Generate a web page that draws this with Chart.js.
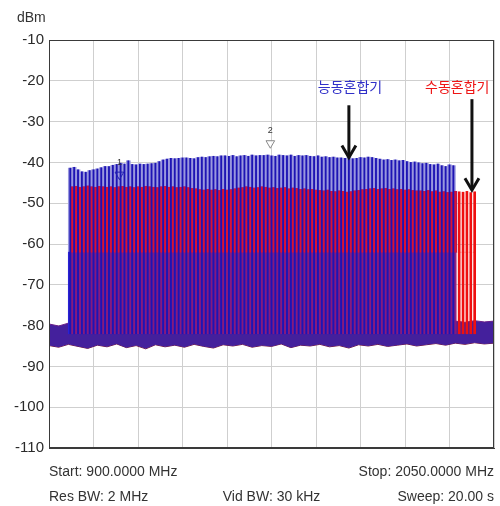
<!DOCTYPE html>
<html>
<head>
<meta charset="utf-8">
<script src="https://cdn.jsdelivr.net/npm/chart.js@4.4.0/dist/chart.umd.min.js"></script>
<style>
body { margin: 0; background: #fff; }
#wrap { width: 500px; height: 506px; }
</style>
</head>
<body>
<div id="wrap"><canvas id="spectrum"></canvas></div>
<script>
// channel centres (MHz) and peak levels (dBm)
const blueFreq = [955, 965, 975, 985, 995, 1005, 1015, 1025, 1035, 1045,
    1055, 1065, 1075, 1085, 1095, 1105, 1115, 1125, 1135, 1145,
    1155, 1165, 1175, 1185, 1195, 1205, 1215, 1225, 1235, 1245,
    1255, 1265, 1275, 1285, 1295, 1305, 1315, 1325, 1335, 1345,
    1355, 1365, 1375, 1385, 1395, 1405, 1415, 1425, 1435, 1445,
    1455, 1465, 1475, 1485, 1495, 1505, 1515, 1525, 1535, 1545,
    1555, 1565, 1575, 1585, 1595, 1605, 1615, 1625, 1635, 1645,
    1655, 1665, 1675, 1685, 1695, 1705, 1715, 1725, 1735, 1745,
    1755, 1765, 1775, 1785, 1795, 1805, 1815, 1825, 1835, 1845,
    1855, 1865, 1875, 1885, 1895, 1905, 1915, 1925, 1935, 1945]
const bluePeak = [-41.4, -41.2, -41.8, -42.3, -42.4, -42.0, -41.8, -41.6, -41.3, -41.0,
    -41.0, -40.7, -40.5, -40.2, -40.4, -39.6, -40.5, -40.6, -40.4, -40.5,
    -40.4, -40.3, -40.2, -39.8, -39.4, -39.2, -39.0, -39.1, -39.0, -38.9,
    -38.9, -39.0, -39.1, -38.8, -38.7, -38.8, -38.6, -38.5, -38.6, -38.4,
    -38.4, -38.5, -38.3, -38.6, -38.4, -38.3, -38.5, -38.2, -38.4, -38.3,
    -38.3, -38.2, -38.4, -38.5, -38.2, -38.3, -38.4, -38.2, -38.5, -38.3,
    -38.4, -38.3, -38.5, -38.6, -38.4, -38.7, -38.6, -38.8, -38.7, -38.9,
    -38.9, -39.0, -38.8, -39.1, -39.0, -38.8, -38.9, -38.7, -38.8, -39.0,
    -39.2, -39.4, -39.3, -39.5, -39.4, -39.6, -39.5, -39.8, -40.0, -39.9,
    -40.1, -40.3, -40.2, -40.5, -40.6, -40.4, -40.8, -41.0, -40.6, -40.8]

const redFreq = [960, 970, 980, 990, 1000, 1010, 1020, 1030, 1040, 1050,
    1060, 1070, 1080, 1090, 1100, 1110, 1120, 1130, 1140, 1150,
    1160, 1170, 1180, 1190, 1200, 1210, 1220, 1230, 1240, 1250,
    1260, 1270, 1280, 1290, 1300, 1310, 1320, 1330, 1340, 1350,
    1360, 1370, 1380, 1390, 1400, 1410, 1420, 1430, 1440, 1450,
    1460, 1470, 1480, 1490, 1500, 1510, 1520, 1530, 1540, 1550,
    1560, 1570, 1580, 1590, 1600, 1610, 1620, 1630, 1640, 1650,
    1660, 1670, 1680, 1690, 1700, 1710, 1720, 1730, 1740, 1750,
    1760, 1770, 1780, 1790, 1800, 1810, 1820, 1830, 1840, 1850,
    1860, 1870, 1880, 1890, 1900, 1910, 1920, 1930, 1940, 1950,
    1960, 1970, 1980, 1990, 2000]
const redPeak = [-46.0, -45.9, -46.1, -46.0, -45.8, -46.0, -46.1, -45.9, -46.0, -46.1,
    -46.0, -46.2, -46.0, -45.9, -46.1, -46.0, -46.2, -46.0, -46.1, -45.9,
    -46.0, -46.1, -46.2, -46.0, -45.9, -46.1, -46.0, -46.2, -46.1, -46.0,
    -46.2, -46.4, -46.5, -46.7, -46.8, -46.6, -46.8, -46.7, -46.9, -46.6,
    -46.8, -46.7, -46.5, -46.3, -46.2, -46.0, -46.1, -46.3, -46.2, -46.0,
    -46.1, -46.3, -46.2, -46.4, -46.3, -46.2, -46.5, -46.3, -46.4, -46.6,
    -46.5, -46.7, -46.6, -46.8, -46.9, -47.0, -46.8, -47.1, -47.2, -47.0,
    -47.1, -47.3, -47.2, -47.0, -46.9, -46.7, -46.6, -46.5, -46.4, -46.6,
    -46.5, -46.4, -46.6, -46.5, -46.7, -46.6, -46.8, -46.7, -46.9, -47.0,
    -47.0, -47.1, -46.9, -47.2, -47.0, -47.3, -47.2, -47.4, -47.3, -47.1,
    -47.2, -47.3, -47.1, -47.4, -47.2]

// noise floor band
const floorFreq = [900, 925, 950, 975, 1000, 1025, 1050, 1075, 1100, 1125,
    1150, 1175, 1200, 1225, 1250, 1275, 1300, 1325, 1350, 1375,
    1400, 1425, 1450, 1475, 1500, 1525, 1550, 1575, 1600, 1625,
    1650, 1675, 1700, 1725, 1750, 1775, 1800, 1825, 1850, 1875,
    1900, 1925, 1950, 1975, 2000, 2025, 2050]
const floorTop = [-79.6, -80.1, -79.4, -79.8, -80.2, -79.5, -79.9, -79.3, -80.0, -79.7,
    -79.4, -80.1, -79.6, -79.9, -79.2, -79.8, -80.0, -79.5, -79.7, -79.3,
    -79.9, -80.2, -79.6, -79.4, -79.8, -80.0, -79.5, -79.7, -79.2, -79.9,
    -79.6, -80.1, -79.4, -79.8, -79.5, -79.9, -79.3, -79.7, -80.0, -79.4,
    -79.0, -79.3, -78.9, -79.2, -78.8, -79.1, -78.9]
const floorBot = [-84.9, -85.3, -84.6, -85.1, -85.6, -84.8, -85.2, -84.5, -85.4, -84.9,
    -85.7, -84.7, -85.2, -84.8, -85.3, -84.6, -85.1, -85.5, -84.7, -85.0,
    -84.6, -85.3, -84.9, -85.1, -84.5, -85.4, -84.8, -85.0, -84.6, -85.2,
    -84.9, -85.5, -84.7, -85.0, -84.6, -85.1, -84.8, -84.5, -85.0, -84.7,
    -84.4, -84.8, -84.3, -84.6, -84.2, -84.5, -84.3]

const traceBottom = -82
const blueTrough = -62   // level the active mixer trace falls to between channels

const markerFreq = [1082, 1472]
const markerLevel = [-43, -35.3]
const markerName = ["1", "2"]

const noteText = ["능동혼합기", "수동혼합기"]
const noteFreq = [1678, 1955]
const noteLevel = [-21.5, -21.5]
const arrowFreq = [1675, 1993]
const arrowFrom = [-26, -24.5]
const arrowTo = [-38.8, -46.8]

const yTicks = [-10, -20, -30, -40, -50, -60, -70, -80, -90, -100, -110]

const lastBlue = blueFreq[blueFreq.length - 1]
const redOnly = ctx => ctx.raw && ctx.raw.x > lastBlue + 5

function arrow(ctx, x, y1, y2) {
    ctx.beginPath()
    ctx.moveTo(x, y1)
    ctx.lineTo(x, y2 - 2)
    ctx.stroke()
    ctx.beginPath()
    ctx.moveTo(x - 7, y2 - 12)
    ctx.lineTo(x, y2)
    ctx.lineTo(x + 7, y2 - 12)
    ctx.stroke()
}

const overlay = {
    id: "overlay",
    afterDraw(chart) {
        let ctx = chart.ctx
        let a = chart.chartArea
        let xs = chart.scales.x
        let ys = chart.scales.y
        ctx.save()

        ctx.strokeStyle = "#3a3a3a"
        ctx.lineWidth = 1
        ctx.strokeRect(a.left + 0.5, a.top + 0.5, a.right - a.left - 1, a.bottom - a.top - 1)

        // marker labels
        ctx.fillStyle = "#333"
        ctx.font = "9px 'Liberation Sans', Arial"
        ctx.textAlign = "center"
        ctx.textBaseline = "bottom"
        for (let i = 0; i < markerName.length; i++) {
            ctx.fillText(markerName[i], xs.getPixelForValue(markerFreq[i]), ys.getPixelForValue(markerLevel[i]) - 8)
        }

        // mixer notes and arrows
        ctx.font = "14px 'Noto Sans CJK KR'"
        ctx.textBaseline = "middle"
        ctx.fillStyle = "#3030c8"
        ctx.fillText(noteText[0], xs.getPixelForValue(noteFreq[0]), ys.getPixelForValue(noteLevel[0]))
        ctx.fillStyle = "#ee1515"
        ctx.fillText(noteText[1], xs.getPixelForValue(noteFreq[1]), ys.getPixelForValue(noteLevel[1]))

        ctx.strokeStyle = "#111"
        ctx.lineWidth = 3
        for (let i = 0; i < arrowFreq.length; i++) {
            arrow(ctx, xs.getPixelForValue(arrowFreq[i]), ys.getPixelForValue(arrowFrom[i]), ys.getPixelForValue(arrowTo[i]))
        }

        // analyzer settings
        ctx.fillStyle = "#333"
        ctx.font = "14px 'Liberation Sans', Arial"
        ctx.textBaseline = "alphabetic"
        ctx.textAlign = "left"
        ctx.fillText("dBm", 17, 22)
        ctx.fillText("Start: 900.0000 MHz", a.left, a.bottom + 28)
        ctx.fillText("Res BW: 2 MHz", a.left, a.bottom + 53)
        ctx.textAlign = "center"
        ctx.fillText("Vid BW: 30 kHz", (a.left + a.right) / 2, a.bottom + 53)
        ctx.textAlign = "right"
        ctx.fillText("Stop: 2050.0000 MHz", a.right, a.bottom + 28)
        ctx.fillText("Sweep: 20.00 s", a.right, a.bottom + 53)
        ctx.restore()
    }
}

new Chart(document.getElementById("spectrum"), {
    type: "bar",
    data: {
        datasets: [
            {
                type: "line",
                data: floorFreq.map((f, i) => ({ x: f, y: floorBot[i] })),
                borderColor: "#7a1838",
                borderWidth: 1,
                pointRadius: 0,
                tension: 0,
                order: 10
            },
            {
                type: "line",
                data: floorFreq.map((f, i) => ({ x: f, y: floorTop[i] })),
                borderColor: "#6a1f8a",
                backgroundColor: "#44209c",
                borderWidth: 1,
                pointRadius: 0,
                tension: 0,
                fill: "-1",
                order: 9
            },
            {
                // light halo round the active mixer channels
                data: blueFreq.map((f, i) => ({ x: f, y: [blueTrough, bluePeak[i]] })),
                backgroundColor: "#9a98de",
                barThickness: 4,
                order: 8
            },
            {
                data: blueFreq.map(f => ({ x: f, y: [traceBottom, blueTrough] })),
                backgroundColor: "#2a22d4",
                barThickness: 4,
                order: 7
            },
            {
                // passive mixer body, mixed with the active trace
                data: redFreq.map((f, i) => ({ x: f, y: [blueTrough, redPeak[i]] })),
                backgroundColor: ctx => redOnly(ctx) ? "rgba(0,0,0,0)" : "#7a1c8c",
                barThickness: 3,
                order: 6
            },
            {
                data: redFreq.map(f => ({ x: f, y: [traceBottom, blueTrough] })),
                backgroundColor: ctx => redOnly(ctx) ? "#ee1010" : "rgba(150,25,110,0.85)",
                barThickness: 2,
                order: 5
            },
            {
                data: redFreq.map((f, i) => ({ x: f, y: [blueTrough, redPeak[i]] })),
                backgroundColor: ctx => redOnly(ctx) ? "#ee1010" : "#dc1232",
                barThickness: 2,
                order: 4
            },
            {
                data: blueFreq.map((f, i) => ({ x: f, y: [traceBottom, bluePeak[i]] })),
                backgroundColor: "#1d14b4",
                barThickness: 1.2,
                order: 3
            },
            {
                type: "scatter",
                data: markerFreq.map((f, i) => ({ x: f, y: markerLevel[i] })),
                pointStyle: "triangle",
                rotation: 180,
                radius: 5,
                borderWidth: 1,
                borderColor: ["#2020b0", "#888"],
                backgroundColor: ["rgba(255,255,255,0)", "rgba(255,255,255,0.85)"],
                order: 1
            }
        ]
    },
    options: {
        responsive: true,
        maintainAspectRatio: false,
        animation: false,
        events: [],
        grouped: false,
        layout: { padding: { top: 40, right: 3, bottom: 58, left: 0 } },
        plugins: {
            legend: { display: false },
            tooltip: { enabled: false }
        },
        scales: {
            x: {
                type: "linear",
                min: 900,
                max: 2050,
                offset: false,
                ticks: { display: false, stepSize: 115 },
                grid: { color: "#cfcfcf", drawTicks: false, offset: false },
                border: { color: "#3a3a3a" },
                afterFit: s => { s.height = 0 }
            },
            y: {
                min: -110,
                max: -10,
                afterBuildTicks: s => { s.ticks = yTicks.map(v => ({ value: v })) },
                ticks: {
                    color: "#2a2a2a",
                    padding: 5,
                    font: { family: "'Liberation Sans', Arial", size: 15 }
                },
                grid: { color: "#cfcfcf", drawTicks: false },
                border: { color: "#3a3a3a" },
                afterFit: s => { s.width = 49 }
            }
        }
    },
    plugins: [overlay]
})
</script>
</body>
</html>
